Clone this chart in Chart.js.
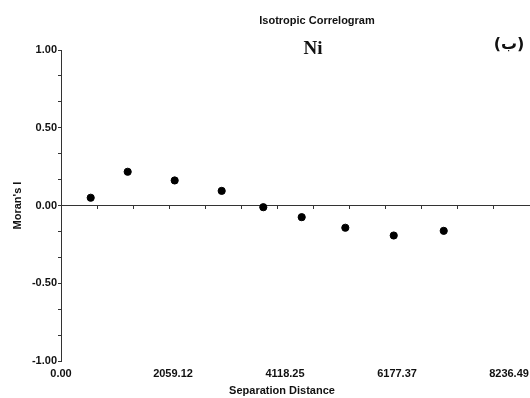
<!DOCTYPE html>
<html>
<head>
<meta charset="utf-8">
<script src="https://cdn.jsdelivr.net/npm/chart.js@4/dist/chart.umd.min.js"></script>
<style>
  html, body { margin: 0; padding: 0; background: #fff; }
  #wrap { width: 530px; height: 398px; }
</style>
</head>
<body>
<div id="wrap"><canvas id="correlograma"></canvas></div>
<script>
const distancias = [546, 1226, 2090, 2954, 3719, 4425, 5227, 6117, 7036];
const moranI = [0.050, 0.217, 0.161, 0.094, -0.011, -0.075, -0.143, -0.193, -0.163];
const etiquetasX = ["0.00", "2059.12", "4118.25", "6177.37", "8236.49"];
const maxX = 8622;
const pasoX = 8236.49 / 4;

const fuente = { family: "'Liberation Sans', Arial, sans-serif", size: 11, weight: "bold" };

const puntos = distancias.map((d, i) => ({ x: d, y: moranI[i] }));

// textos del encabezado y titulo del eje x
const textosPlugin = {
  id: "textos",
  afterDraw(chart) {
    const ctx = chart.ctx;
    ctx.save();
    ctx.fillStyle = "#111";
    ctx.textAlign = "center";
    ctx.textBaseline = "middle";
    ctx.font = "bold 11px 'Liberation Sans', Arial";
    ctx.fillText("Isotropic Correlogram", 317, 21);
    ctx.fillText("Separation Distance", 282, 391);
    ctx.font = "bold 19px 'Liberation Serif', 'Times New Roman', serif";
    ctx.fillText("Ni", 313, 49);
    ctx.font = "bold 16px 'DejaVu Sans', sans-serif";
    ctx.fillText("(ب)", 509, 45);
    ctx.restore();
  }
};

new Chart("correlograma", {
  type: "scatter",
  data: {
    datasets: [{
      data: puntos,
      backgroundColor: "#000",
      borderColor: "#000",
      pointRadius: 3.6,
      pointHoverRadius: 3.6
    }]
  },
  options: {
    responsive: true,
    maintainAspectRatio: false,
    animation: false,
    layout: { autoPadding: false, padding: { top: 50, right: 0, bottom: 0, left: 0 } },
    plugins: {
      legend: { display: false },
      tooltip: { enabled: false }
    },
    scales: {
      x: {
        type: "linear",
        position: { y: 0 },
        bounds: "data",
        min: 0,
        max: maxX,
        border: { color: "#333", width: 1 },
        grid: { drawOnChartArea: false, drawTicks: true, tickLength: 3, color: "#333" },
        ticks: { display: false, stepSize: pasoX / 3, includeBounds: false },
        afterBuildTicks: (s) => { s.min = 0; s.max = maxX; }
      },
      x2: {
        type: "linear",
        position: "bottom",
        axis: "x",
        min: 0,
        max: maxX,
        border: { display: false },
        grid: { display: false, drawTicks: false },
        ticks: {
          maxRotation: 0,
          autoSkip: false,
          padding: 6,
          color: "#111",
          font: fuente,
          callback: (v, i) => etiquetasX[i] ?? ""
        },
        afterBuildTicks: (s) => {
          s.ticks = etiquetasX.map((t, i) => ({ value: i * pasoX }));
          s.min = 0;
          s.max = maxX;
        },
        afterFit: (s) => { s.height = 37; s.paddingLeft = 0; s.paddingRight = 0; }
      },
      y: {
        type: "linear",
        position: "left",
        min: -1,
        max: 1,
        border: { color: "#333", width: 1 },
        grid: { drawOnChartArea: false, drawTicks: true, tickLength: 3, color: "#333" },
        ticks: {
          stepSize: 1 / 6,
          autoSkip: false,
          padding: 1,
          color: "#111",
          font: fuente,
          callback: (v) => Math.abs(v * 2 - Math.round(v * 2)) < 1e-6 ? v.toFixed(2) : ""
        },
        title: {
          display: true,
          text: "Moran's I",
          color: "#111",
          font: fuente,
          padding: { top: 11, bottom: 0 }
        },
        afterFit: (s) => { s.width = 61; s.paddingTop = 0; s.paddingBottom = 0; }
      }
    }
  },
  plugins: [textosPlugin]
});
</script>
</body>
</html>
